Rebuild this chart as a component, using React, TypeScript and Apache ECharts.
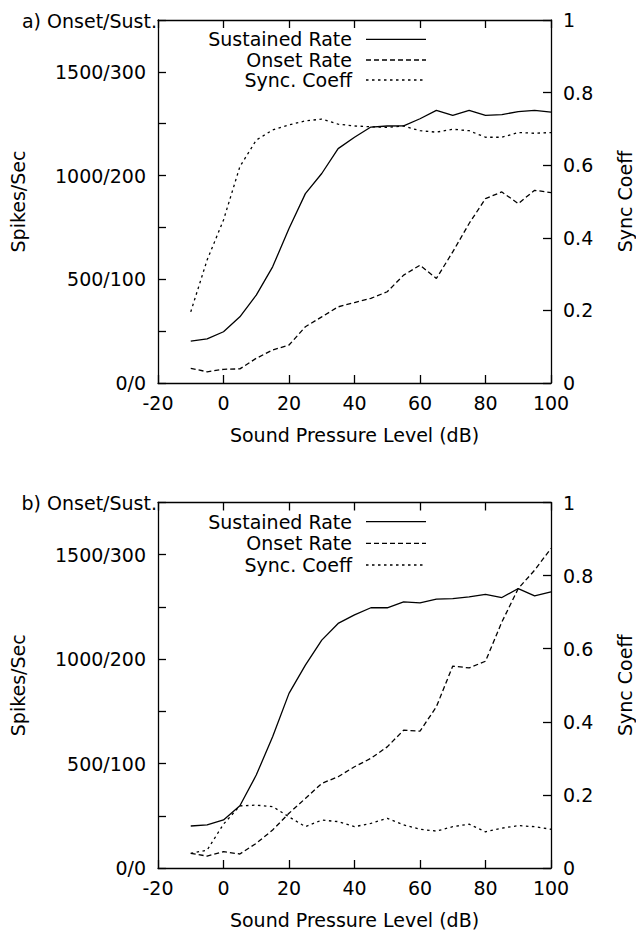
import React, { useEffect, useRef } from "react";
import * as echarts from "echarts";

const spl = [-10, -5, 0, 5, 10, 15, 20, 25, 30, 35, 40, 45, 50, 55, 60, 65, 70, 75, 80, 85, 90, 95, 100];

const sustainedA = [202, 213, 247, 319, 424, 560, 745, 913, 1010, 1130, 1185, 1234, 1239, 1240, 1274, 1314, 1290, 1314, 1290, 1294, 1308, 1314, 1306];
const onsetA = [71, 54, 66, 68, 119, 159, 183, 271, 319, 367, 388, 408, 440, 520, 568, 504, 632, 769, 889, 921, 865, 929, 918];
const syncA = [0.196, 0.339, 0.449, 0.596, 0.669, 0.697, 0.711, 0.722, 0.727, 0.713, 0.708, 0.706, 0.704, 0.708, 0.695, 0.691, 0.699, 0.695, 0.677, 0.677, 0.69, 0.688, 0.69];

const sustainedB = [201, 206, 230, 298, 445, 628, 836, 971, 1091, 1171, 1212, 1246, 1246, 1274, 1269, 1287, 1290, 1298, 1310, 1295, 1338, 1303, 1322];
const onsetB = [70, 57, 78, 67, 118, 182, 262, 333, 405, 437, 485, 525, 580, 660, 655, 772, 967, 958, 990, 1178, 1338, 1426, 1530];
const syncB = [0.04, 0.049, 0.12, 0.17, 0.172, 0.168, 0.14, 0.113, 0.131, 0.127, 0.113, 0.122, 0.136, 0.118, 0.106, 0.101, 0.113, 0.12, 0.099, 0.109, 0.116, 0.113, 0.106];

const leftTickLabels: Record<number, string> = { 0: "0/0", 500: "500/100", 1000: "1000/200", 1500: "1500/300" };
const panelTitles = ["a) Onset/Sust.", "b) Onset/Sust."];
const seriesNames = ["Sustained Rate", "Onset Rate", "Sync. Coeff"];

const FONT = "DejaVu Sans";
const FS = 19;
const BLACK = "#000";
const DASHES: any[] = ["solid", [5, 3], [2.5, 3.5]];

const grids = [
  { left: 158, top: 20, width: 393, height: 363 },
  { left: 158, top: 502.5, width: 393, height: 365.5 },
];

export default function App() {
  const ref = useRef<HTMLDivElement>(null);
  useEffect(() => {
    if (!ref.current) return;
    const chart = echarts.init(ref.current, undefined, { renderer: "svg" });
    const axisLine = { show: true, onZero: false, lineStyle: { color: BLACK, width: 1.3 } };
    const tick = { show: true, inside: true, length: 8, lineStyle: { color: BLACK, width: 1.3 } };
    const label = { color: BLACK, fontFamily: FONT, fontSize: FS };

    const xAxis: any[] = [];
    const yAxis: any[] = [];
    grids.forEach((g, i) => {
      xAxis.push({
        type: "value", gridIndex: i, position: "bottom", min: -20, max: 100, interval: 20,
        axisLine, axisTick: tick, splitLine: { show: false },
        axisLabel: { ...label, margin: 10 },
        name: "Sound Pressure Level (dB)", nameLocation: "middle", nameGap: 42,
        nameTextStyle: { ...label },
      });
      xAxis.push({
        type: "value", gridIndex: i, position: "top", min: -20, max: 100, interval: 20,
        axisLine, axisTick: tick, splitLine: { show: false }, axisLabel: { show: false },
      });
      yAxis.push({
        type: "value", gridIndex: i, position: "left", min: 0, max: 1750, interval: 250,
        axisLine, axisTick: tick, splitLine: { show: false },
        axisLabel: { ...label, margin: 12, formatter: (v: number) => leftTickLabels[v] ?? "" },
        name: "Spikes/Sec", nameLocation: "middle", nameGap: 131, nameRotate: 90,
        nameTextStyle: { ...label },
      });
      yAxis.push({
        type: "value", gridIndex: i, position: "right", min: 0, max: 1, interval: 0.2,
        axisLine, axisTick: tick, splitLine: { show: false },
        axisLabel: { ...label, margin: 12 },
        name: "Sync Coeff", nameLocation: "middle", nameGap: 64, nameRotate: 90,
        nameTextStyle: { ...label },
      });
    });

    const panels = [
      [sustainedA, onsetA, syncA],
      [sustainedB, onsetB, syncB],
    ];
    const series: any[] = [];
    panels.forEach((arrs, p) => {
      arrs.forEach((arr, k) => {
        series.push({
          type: "line",
          name: seriesNames[k] + (p ? " b" : " a"),
          xAxisIndex: p * 2,
          yAxisIndex: p * 2 + (k === 2 ? 1 : 0),
          data: spl.map((x, j) => [x, arr[j]]),
          showSymbol: false,
          symbol: "none",
          lineStyle: { color: BLACK, width: 1.3, type: DASHES[k] },
          silent: true,
        });
      });
    });

    const graphic: any[] = [];
    const rowOffsets = [[19.3, 40, 60], [19.2, 40.8, 62.5]];
    grids.forEach((g, i) => {
      graphic.push({
        type: "text", x: 157, y: g.top + 0.5,
        style: { text: panelTitles[i], fill: BLACK, font: `${FS}px "${FONT}"`, textAlign: "right", textVerticalAlign: "middle" },
      });
      seriesNames.forEach((n, k) => {
        const y = g.top + rowOffsets[i][k];
        graphic.push({
          type: "text", x: 352, y,
          style: { text: n, fill: BLACK, font: `${FS}px "${FONT}"`, textAlign: "right", textVerticalAlign: "middle" },
        });
        graphic.push({
          type: "line", shape: { x1: 366, y1: y, x2: 426, y2: y },
          style: { stroke: BLACK, lineWidth: 1.3, lineDash: k === 0 ? null : DASHES[k] },
        });
      });
    });

    chart.setOption({
      animation: false,
      backgroundColor: "#fff",
      grid: grids.map((g) => ({ ...g, containLabel: false, outerBoundsMode: "none" })),
      xAxis,
      yAxis,
      series,
      graphic,
    });
    return () => chart.dispose();
  }, []);
  return (
    <div
      ref={ref}
      style={{ position: "absolute", left: 0, top: 0, width: 636, height: 932, background: "#fff" }}
    />
  );
}
